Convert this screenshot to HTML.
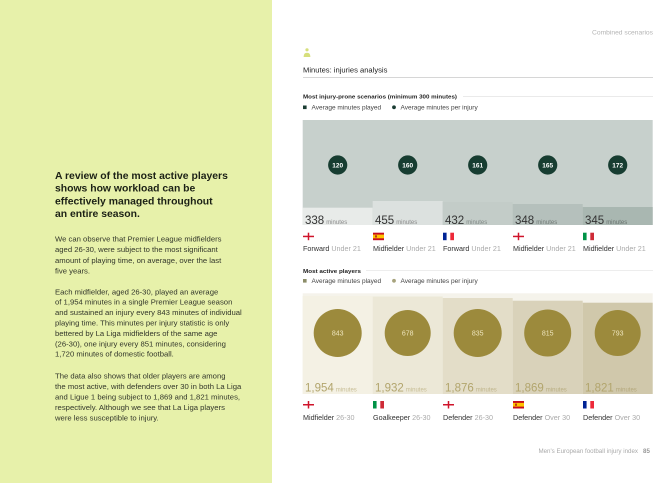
<!DOCTYPE html>
<html>
<head>
<meta charset="utf-8">
<style>
  html,body{margin:0;padding:0;background:#fff;}
  body{width:660px;height:483px;overflow:hidden;}
  svg{display:block;font-family:"Liberation Sans", sans-serif;}
</style>
</head>
<body>
<svg width="660" height="483" viewBox="0 0 660 483" xmlns="http://www.w3.org/2000/svg">
  <defs>
    <g id="eng">
      <rect x="0" y="0" width="11" height="7.5" fill="#ffffff"/>
      <rect x="0" y="3" width="11" height="1.5" fill="#cf142b"/>
      <rect x="4.75" y="0" width="1.5" height="7.5" fill="#cf142b"/>
    </g>
    <g id="esp">
      <rect x="0" y="0" width="11" height="7.5" fill="#c60b1e"/>
      <rect x="0" y="1.9" width="11" height="3.7" fill="#ffc400"/>
      <rect x="2.2" y="2.6" width="1.6" height="2.2" fill="#ad1519"/>
    </g>
    <g id="fra">
      <rect x="0" y="0" width="3.7" height="7.5" fill="#002395"/>
      <rect x="3.7" y="0" width="3.6" height="7.5" fill="#ffffff"/>
      <rect x="7.3" y="0" width="3.7" height="7.5" fill="#ed2939"/>
    </g>
    <g id="ita">
      <rect x="0" y="0" width="3.7" height="7.5" fill="#009246"/>
      <rect x="3.7" y="0" width="3.6" height="7.5" fill="#ffffff"/>
      <rect x="7.3" y="0" width="3.7" height="7.5" fill="#ce2b37"/>
    </g>
  </defs>

  <!-- LEFT PANEL -->
  <rect x="0" y="0" width="272" height="483" fill="#e7f1aa"/>
  <g font-weight="bold" font-size="10.4" fill="#1c2116">
    <text x="55" y="178.8">A review of the most active players</text>
    <text x="55" y="191.6">shows how workload can be</text>
    <text x="55" y="204.4">effectively managed throughout</text>
    <text x="55" y="217.1">an entire season.</text>
  </g>
  <g font-size="7.7" fill="#33372b">
    <text x="55" y="241.6">We can observe that Premier League midfielders</text>
    <text x="55" y="252.2">aged 26-30, were subject to the most significant</text>
    <text x="55" y="262.8">amount of playing time, on average, over the last</text>
    <text x="55" y="273.4">five years.</text>

    <text x="55" y="294.3">Each midfielder, aged 26-30, played an average</text>
    <text x="55" y="304.7">of 1,954 minutes in a single Premier League season</text>
    <text x="55" y="315.1">and sustained an injury every 843 minutes of individual</text>
    <text x="55" y="325.5">playing time. This minutes per injury statistic is only</text>
    <text x="55" y="335.9">bettered by La Liga midfielders of the same age</text>
    <text x="55" y="346.3">(26-30), one injury every 851 minutes, considering</text>
    <text x="55" y="356.7">1,720 minutes of domestic football.</text>

    <text x="55" y="378.3">The data also shows that older players are among</text>
    <text x="55" y="388.8">the most active, with defenders over 30 in both La Liga</text>
    <text x="55" y="399.3">and Ligue 1 being subject to 1,869 and 1,821 minutes,</text>
    <text x="55" y="409.8">respectively. Although we see that La Liga players</text>
    <text x="55" y="420.3">were less susceptible to injury.</text>
  </g>

  <!-- RIGHT HEADER -->
  <text x="653" y="34.5" font-size="6.7" fill="#b4b4b4" text-anchor="end">Combined scenarios</text>
  <circle cx="307" cy="49.8" r="1.6" fill="#d6df7c"/>
  <path d="M303.6 57 Q303.6 52.8 307 52.8 Q310.4 52.8 310.4 57 Z" fill="#d6df7c"/>
  <text x="303" y="72.7" font-size="7.6" fill="#222">Minutes: injuries analysis</text>
  <line x1="303" y1="77.5" x2="653" y2="77.5" stroke="#c9c9c9" stroke-width="0.8"/>

  <!-- CHART 1 -->
  <text x="303" y="98.4" font-size="5.8" font-weight="bold" fill="#222" textLength="154" lengthAdjust="spacingAndGlyphs">Most injury-prone scenarios (minimum 300 minutes)</text>
  <line x1="463" y1="96.3" x2="653" y2="96.3" stroke="#dedede" stroke-width="0.6"/>
  <rect x="303" y="105.5" width="3.6" height="3.6" fill="#1b3d33"/>
  <text x="311.5" y="109.4" font-size="6.5" fill="#444">Average minutes played</text>
  <circle cx="394" cy="107.3" r="1.9" fill="#1b3d33"/>
  <text x="400.5" y="109.4" font-size="6.5" fill="#444">Average minutes per injury</text>

  <rect x="302.7" y="120" width="350" height="105" fill="#c7d0cc"/>
  <rect x="302.7" y="207.7" width="70" height="17.3" fill="#e8ebe9"/>
  <rect x="372.7" y="201" width="70" height="24" fill="#dce1df"/>
  <rect x="442.7" y="202" width="70" height="23" fill="#c3ccc8"/>
  <rect x="512.7" y="204" width="70" height="21" fill="#b5c0bc"/>
  <rect x="582.7" y="207" width="70" height="18" fill="#a9b7b1"/>

  <g fill="#173d31">
    <circle cx="337.7" cy="165" r="9.6"/>
    <circle cx="407.7" cy="165" r="9.6"/>
    <circle cx="477.7" cy="165" r="9.6"/>
    <circle cx="547.7" cy="165" r="9.6"/>
    <circle cx="617.7" cy="165" r="9.6"/>
  </g>
  <g fill="#ffffff" font-size="6.5" font-weight="bold" text-anchor="middle">
    <text x="337.7" y="167.4">120</text>
    <text x="407.7" y="167.4">160</text>
    <text x="477.7" y="167.4">161</text>
    <text x="547.7" y="167.4">165</text>
    <text x="617.7" y="167.4">172</text>
  </g>
  <g font-size="11.5" fill="#333">
    <text x="305" y="224"><tspan>338</tspan><tspan font-size="6" fill="#8a8a8a" dx="2">minutes</tspan></text>
    <text x="375" y="224"><tspan>455</tspan><tspan font-size="6" fill="#8a8a8a" dx="2">minutes</tspan></text>
    <text x="445" y="224"><tspan>432</tspan><tspan font-size="6" fill="#7f8784" dx="2">minutes</tspan></text>
    <text x="515" y="224"><tspan>348</tspan><tspan font-size="6" fill="#6f7874" dx="2">minutes</tspan></text>
    <text x="585" y="224"><tspan>345</tspan><tspan font-size="6" fill="#66706c" dx="2">minutes</tspan></text>
  </g>
  <use href="#eng" x="303" y="232.7"/>
  <use href="#esp" x="373" y="232.7"/>
  <use href="#fra" x="443" y="232.7"/>
  <use href="#eng" x="513" y="232.7"/>
  <use href="#ita" x="583" y="232.7"/>
  <g font-size="7.2" fill="#333">
    <text x="303" y="251.2">Forward <tspan fill="#aaaaaa">Under 21</tspan></text>
    <text x="373" y="251.2">Midfielder <tspan fill="#aaaaaa">Under 21</tspan></text>
    <text x="443" y="251.2">Forward <tspan fill="#aaaaaa">Under 21</tspan></text>
    <text x="513" y="251.2">Midfielder <tspan fill="#aaaaaa">Under 21</tspan></text>
    <text x="583" y="251.2">Midfielder <tspan fill="#aaaaaa">Under 21</tspan></text>
  </g>

  <!-- CHART 2 -->
  <text x="303" y="272.8" font-size="5.8" font-weight="bold" fill="#222" textLength="58" lengthAdjust="spacingAndGlyphs">Most active players</text>
  <line x1="366" y1="270.3" x2="653" y2="270.3" stroke="#e2e2e2" stroke-width="0.6"/>
  <rect x="303" y="279" width="3.6" height="3.6" fill="#8b8d68"/>
  <text x="311.5" y="282.9" font-size="6.5" fill="#444">Average minutes played</text>
  <circle cx="394" cy="280.8" r="1.9" fill="#a7a37d"/>
  <text x="400.5" y="282.9" font-size="6.5" fill="#444">Average minutes per injury</text>

  <rect x="302.7" y="293.3" width="350" height="100.7" fill="#f5f3eb"/>
  <rect x="302.7" y="296" width="70" height="98" fill="#f4f1e4"/>
  <rect x="372.7" y="296.5" width="70" height="97.5" fill="#ece8d7"/>
  <rect x="442.7" y="298" width="70" height="96" fill="#e3ddc8"/>
  <rect x="512.7" y="300.7" width="70" height="93.3" fill="#d9d2ba"/>
  <rect x="582.7" y="302.7" width="70" height="91.3" fill="#d0c8ab"/>

  <g fill="#9c8a3c">
    <circle cx="337.7" cy="333" r="24"/>
    <circle cx="407.7" cy="333" r="23"/>
    <circle cx="477.7" cy="333" r="24"/>
    <circle cx="547.7" cy="333" r="23.5"/>
    <circle cx="617.7" cy="333" r="23"/>
  </g>
  <g fill="#eee5bd" font-size="7" text-anchor="middle">
    <text x="337.7" y="335.5">843</text>
    <text x="407.7" y="335.5">678</text>
    <text x="477.7" y="335.5">835</text>
    <text x="547.7" y="335.5">815</text>
    <text x="617.7" y="335.5">793</text>
  </g>
  <g font-size="11.5" fill="#b2a56d">
    <text x="305" y="391.5"><tspan>1,954</tspan><tspan font-size="6" fill="#c6bc93" dx="2">minutes</tspan></text>
    <text x="375" y="391.5"><tspan>1,932</tspan><tspan font-size="6" fill="#c6bc93" dx="2">minutes</tspan></text>
    <text x="445" y="391.5"><tspan>1,876</tspan><tspan font-size="6" fill="#bfb48a" dx="2">minutes</tspan></text>
    <text x="515" y="391.5"><tspan>1,869</tspan><tspan font-size="6" fill="#b8ad80" dx="2">minutes</tspan></text>
    <text x="585" y="391.5"><tspan>1,821</tspan><tspan font-size="6" fill="#b3a77a" dx="2">minutes</tspan></text>
  </g>
  <use href="#eng" x="303" y="401"/>
  <use href="#ita" x="373" y="401"/>
  <use href="#eng" x="443" y="401"/>
  <use href="#esp" x="513" y="401"/>
  <use href="#fra" x="583" y="401"/>
  <g font-size="7.2" fill="#333">
    <text x="303" y="419.8">Midfielder <tspan fill="#aaaaaa">26-30</tspan></text>
    <text x="373" y="419.8">Goalkeeper <tspan fill="#aaaaaa">26-30</tspan></text>
    <text x="443" y="419.8">Defender <tspan fill="#aaaaaa">26-30</tspan></text>
    <text x="513" y="419.8">Defender <tspan fill="#aaaaaa">Over 30</tspan></text>
    <text x="583" y="419.8">Defender <tspan fill="#aaaaaa">Over 30</tspan></text>
  </g>

  <!-- FOOTER -->
  <text x="638" y="452.8" font-size="6.2" fill="#aaaaaa" text-anchor="end">Men's European football injury index</text>
  <text x="643" y="452.8" font-size="6.2" fill="#999999" font-weight="bold">85</text>
</svg>
</body>
</html>
